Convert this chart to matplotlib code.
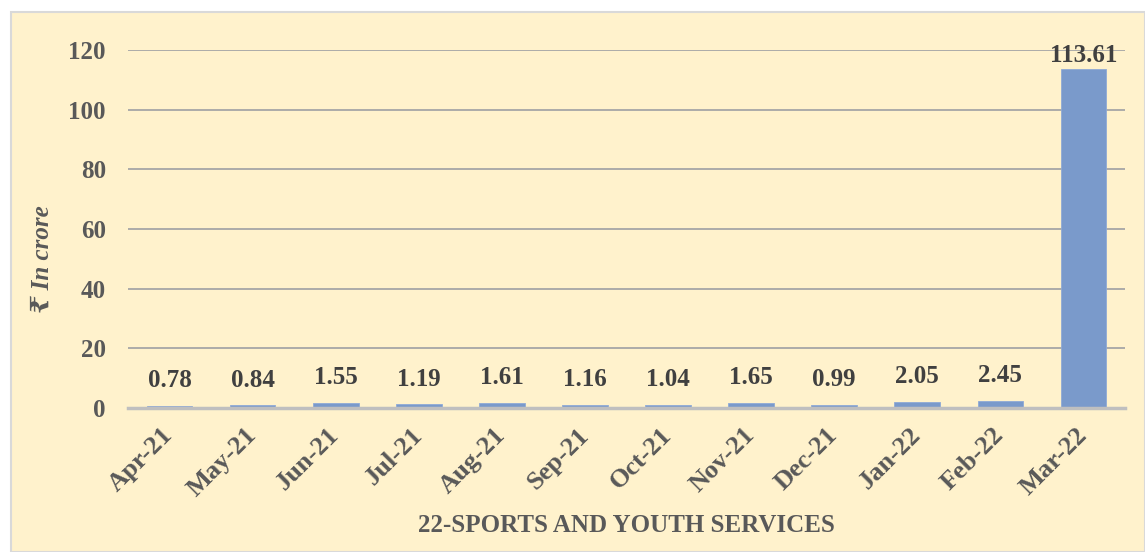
import matplotlib.pyplot as plt
from matplotlib.patches import Rectangle

months = ['Apr-21', 'May-21', 'Jun-21', 'Jul-21', 'Aug-21', 'Sep-21',
          'Oct-21', 'Nov-21', 'Dec-21', 'Jan-22', 'Feb-22', 'Mar-22']
spend = [0.78, 0.84, 1.55, 1.19, 1.61, 1.16, 1.04, 1.65, 0.99, 2.05, 2.45, 113.61]
yticks = [0, 20, 40, 60, 80, 100, 120]

serif = ['Liberation Serif', 'DejaVu Serif']
bg = '#FFF2CC'
W, H = 1145, 552

fig = plt.figure(figsize=(W / 100, H / 100), dpi=100)
fig.patch.set_facecolor('white')
# chart panel with thin grey border, kept behind the axes
fig.add_artist(Rectangle((11 / W, 0), 1 - 11 / W, 1 - 12 / H,
                         transform=fig.transFigure, facecolor=bg,
                         edgecolor='#D9D9D9', linewidth=1.5, zorder=-10))

ax = fig.add_axes([128 / W, 144 / H, 997 / W, 358 / H])
ax.set_facecolor('none')

x = range(len(months))
ax.bar(x, spend, width=0.55, color='#7A9ACB', edgecolor='#8FAAD6',
       linewidth=0.6, zorder=3)

for xi, v in zip(x, spend):
    ax.annotate(f'{v:.2f}', (xi, v), xytext=(0, 10), textcoords='offset points',
                ha='center', va='bottom' if v < 50 else 'center',
                fontsize=18, fontweight='bold', color='#404040',
                family=serif, clip_on=False)

ax.set_xlim(-0.5, len(months) - 0.5)
ax.set_ylim(0, 120)
ax.set_yticks(yticks)
ax.yaxis.grid(True, color='#A6A6A6', linewidth=1.3, zorder=0)
ax.set_axisbelow(True)
for s in ['top', 'right', 'left']:
    ax.spines[s].set_visible(False)
ax.spines['bottom'].set_color('#BFBFBF')
ax.spines['bottom'].set_linewidth(2.5)
ax.spines['bottom'].set_zorder(4)
ax.tick_params(axis='both', length=0)
ax.tick_params(axis='y', pad=16)
ax.tick_params(axis='x', pad=17)

ax.set_xticks(list(x))
ax.set_xticklabels(months, rotation=45, ha='right', va='center',
                   rotation_mode='anchor')
for lbl in ax.get_xticklabels():
    lbl.set_fontsize(19)
for lbl in ax.get_yticklabels():
    lbl.set_fontsize(18)
for lbl in ax.get_xticklabels() + ax.get_yticklabels():
    lbl.set_family(serif)
    lbl.set_fontweight('bold')
    lbl.set_color('#595959')

fig.text(42 / W, 1 - 259 / H, '₹ In crore', family=serif, fontweight='bold',
         fontstyle='italic', fontsize=18, color='#595959', rotation=90,
         ha='center', va='center')
fig.text(626 / W, 1 - 526 / H, '22-SPORTS AND YOUTH SERVICES', family=serif,
         fontweight='bold', fontsize=18, color='#595959',
         ha='center', va='center')

fig.savefig('out.png', dpi=100, facecolor=fig.get_facecolor())
